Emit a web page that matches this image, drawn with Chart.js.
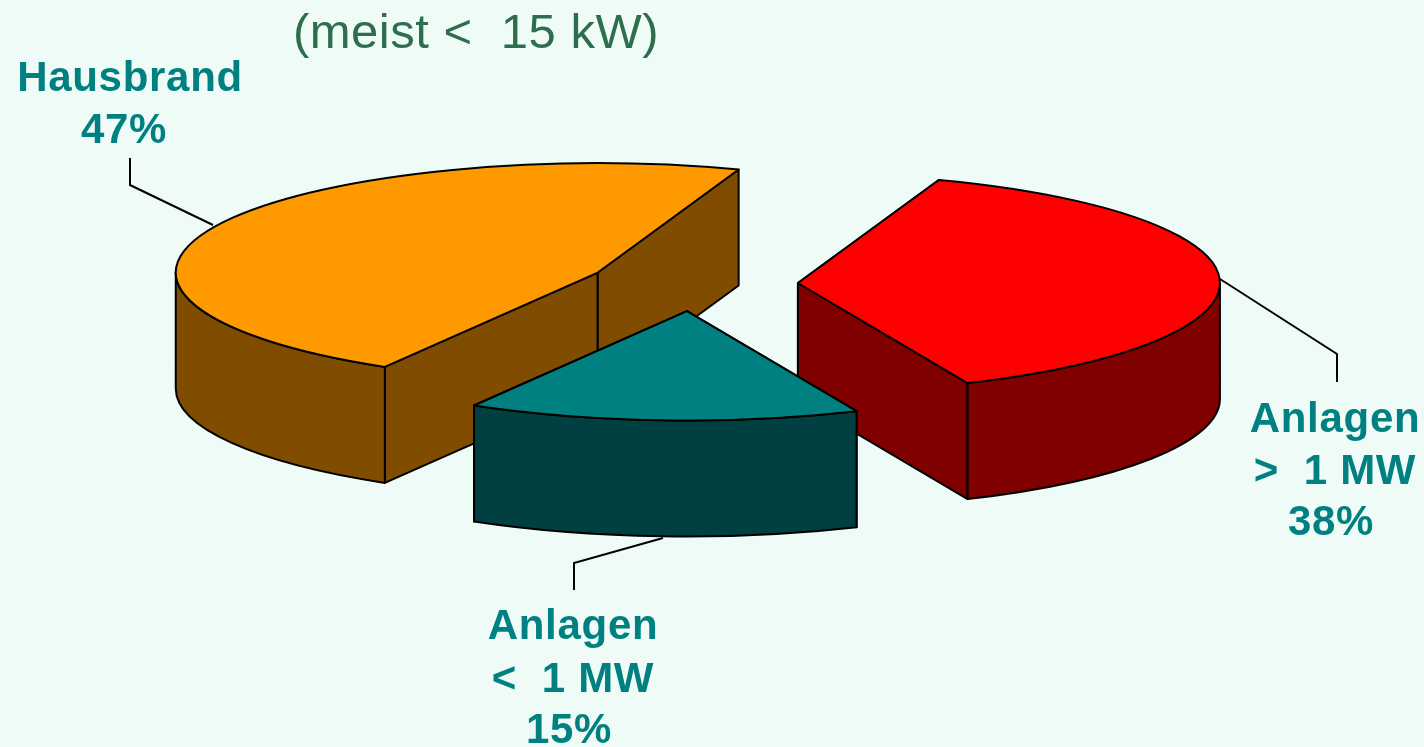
<!DOCTYPE html>
<html lang="de">
<head>
  <meta charset="UTF-8">
  <title>Hausbrand</title>
  <style>
    html, body { margin: 0; padding: 0; background: #EEFBF7; overflow: hidden; }
    #wrap { width: 1424px; height: 747px; }
  </style>
</head>
<body>
  <div id="wrap"><canvas id="pie" width="1424" height="747"></canvas></div>

  <script src="https://cdn.jsdelivr.net/npm/chart.js"></script>
  <script>
    // data, clockwise from the 20 degree mark
    const categories = ['Anlagen > 1 MW', 'Anlagen < 1 MW', 'Hausbrand'];
    const values = [38, 15, 47];
    const topColors = ['#FF0000', '#008080', '#FF9900'];
    const wallColors = ['#800000', '#004040', '#804D00'];
    const labelLines = [['Anlagen', '>  1 MW'], ['Anlagen', '<  1 MW'], ['Hausbrand']];
    const titleText = '(meist <  15 kW)';

    // look of the fake 3d pie
    const pieX = 693, pieY = 284;
    const radius = 422;
    const squash = 0.259;
    const depth = 116;
    const explode = 105;

    // label layout: centre x, baselines, leader line
    const labelLayout = [
      { x: 1335, base: [432, 484, 535], pctShift: -4, leader: [[1337, 382], [1337, 354], [1220, 279]] },
      { x: 573, base: [639, 692, 743], pctShift: -4, leader: [[574, 590], [574, 563], [663, 538]] },
      { x: 130, base: [91, 143], pctShift: -6, leader: [[130, 158], [130, 185], [213, 225]] }
    ];

    function arcPoint(el, a, drop) {
      return [el.x + radius * Math.cos(a), el.y * squash + radius * squash * Math.sin(a) + drop];
    }

    function face(ctx, el, a) {
      const p = arcPoint(el, a, 0);
      ctx.beginPath();
      ctx.moveTo(el.x, el.y * squash);
      ctx.lineTo(p[0], p[1]);
      ctx.lineTo(p[0], p[1] + depth);
      ctx.lineTo(el.x, el.y * squash + depth);
      ctx.closePath();
      ctx.fill();
      ctx.stroke();
    }

    // only the part of the rim between 0 and 180 degrees looks at the viewer
    function rim(ctx, el) {
      const ranges = [[el.startAngle, el.endAngle], [el.startAngle + 2 * Math.PI, el.endAngle + 2 * Math.PI]];
      ranges.forEach(r => {
        const a0 = Math.max(r[0], 0), a1 = Math.min(r[1], Math.PI);
        if (a1 <= a0) return;
        ctx.beginPath();
        ctx.ellipse(el.x, el.y * squash, radius, radius * squash, 0, a0, a1);
        ctx.ellipse(el.x, el.y * squash + depth, radius, radius * squash, 0, a1, a0, true);
        ctx.closePath();
        ctx.fill();
        ctx.stroke();
      });
    }

    const pie3d = {
      id: 'pie3d',
      afterDatasetsUpdate(chart) {
        // pull the slices out here, the offset option would also grow their radius
        chart.getDatasetMeta(0).data.forEach(el => {
          const mid = (el.startAngle + el.endAngle) / 2;
          el.x = pieX + Math.cos(mid) * explode;
          el.y = pieY / squash + Math.sin(mid) * explode;
        });
      },
      beforeDatasetsDraw(chart) {
        const ctx = chart.ctx;
        const arcs = chart.getDatasetMeta(0).data.map((el, i) => ({ el, i }));
        arcs.sort((a, b) => a.el.y - b.el.y);
        ctx.save();
        ctx.strokeStyle = '#000';
        ctx.lineWidth = 2;
        ctx.lineJoin = 'round';
        arcs.forEach(({ el, i }) => {
          ctx.fillStyle = wallColors[i];
          face(ctx, el, el.startAngle);
          face(ctx, el, el.endAngle);
          rim(ctx, el);
        });
        ctx.restore();
      },
      beforeDatasetDraw(chart) {
        chart.ctx.save();
        chart.ctx.scale(1, squash);
      },
      afterDatasetDraw(chart) {
        chart.ctx.restore();
      },
      afterDatasetsDraw(chart) {
        const ctx = chart.ctx;
        ctx.save();
        ctx.strokeStyle = '#000';
        ctx.lineWidth = 2;
        ctx.lineJoin = 'round';
        chart.getDatasetMeta(0).data.forEach(el => {
          ctx.beginPath();
          ctx.moveTo(el.x, el.y * squash);
          ctx.ellipse(el.x, el.y * squash, radius, radius * squash, 0, el.startAngle, el.endAngle);
          ctx.closePath();
          ctx.stroke();
        });
        ctx.restore();
      },
      afterDraw(chart) {
        const ctx = chart.ctx;
        ctx.save();
        ctx.textAlign = 'center';
        ctx.textBaseline = 'alphabetic';

        ctx.fillStyle = '#2E6E4E';
        ctx.font = '49px "Liberation Sans", Arial, sans-serif';
        ctx.letterSpacing = '0.5px';
        ctx.fillText(titleText, 476, 48);

        ctx.font = 'bold 42px "Liberation Sans", Arial, sans-serif';
        ctx.letterSpacing = '0.7px';
        labelLayout.forEach((lay, i) => {
          ctx.strokeStyle = '#000';
          ctx.lineWidth = 2;
          ctx.beginPath();
          lay.leader.forEach((p, n) => n ? ctx.lineTo(p[0], p[1]) : ctx.moveTo(p[0], p[1]));
          ctx.stroke();

          ctx.fillStyle = '#008080';
          const lines = labelLines[i];
          lines.forEach((txt, n) => ctx.fillText(txt, lay.x, lay.base[n]));
          ctx.fillText(values[i] + '%', lay.x + lay.pctShift, lay.base[lines.length]);
        });
        ctx.restore();
      }
    };

    new Chart(document.getElementById('pie'), {
      type: 'pie',
      data: {
        labels: categories,
        datasets: [{
          data: values,
          backgroundColor: topColors,
          borderWidth: 0,
          clip: false
        }]
      },
      options: {
        responsive: false,
        animation: false,
        rotation: 19.5,
        radius: radius,
        events: [],
        plugins: { legend: { display: false }, tooltip: { enabled: false } }
      },
      plugins: [pie3d]
    });
  </script>
</body>
</html>
